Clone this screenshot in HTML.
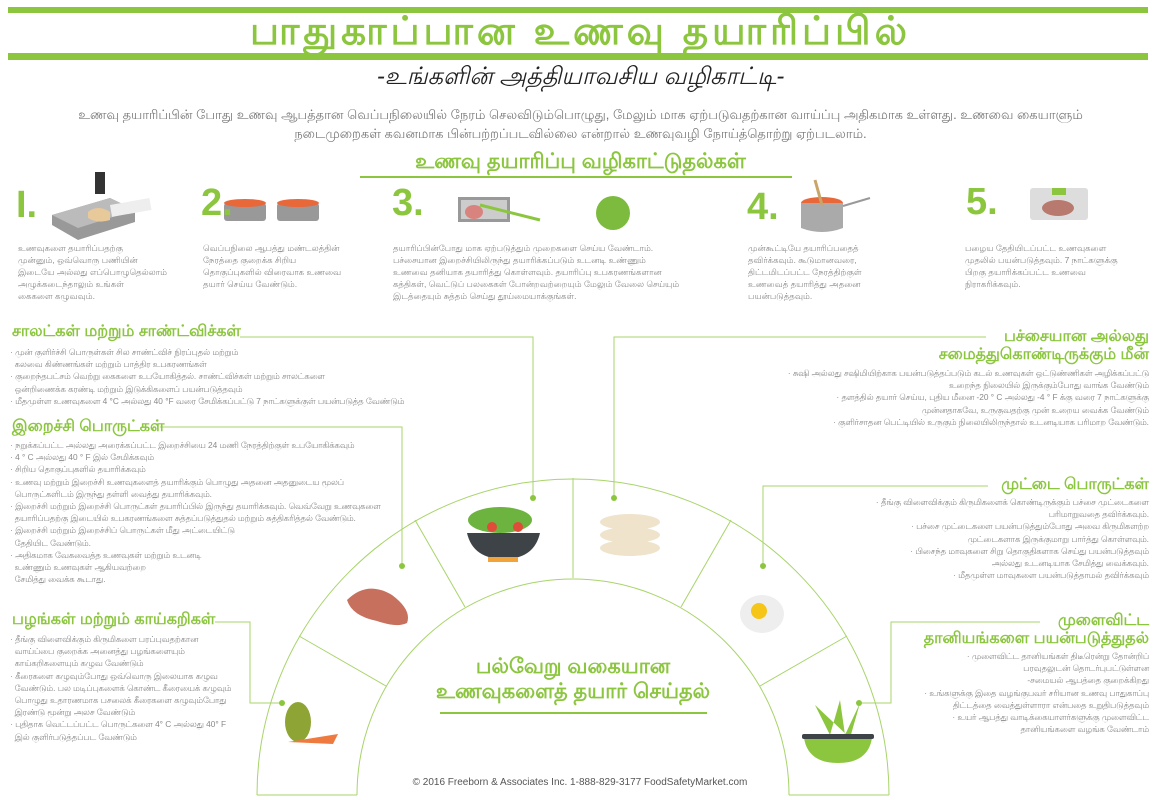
<!DOCTYPE html>
<html><head><meta charset="utf-8">
<style>
*{margin:0;padding:0;box-sizing:border-box}
body{width:1161px;height:800px;background:#fff;position:relative;overflow:hidden;font-family:"Liberation Sans","Noto Sans CJK SC",sans-serif;color:#777}
.a{position:absolute;white-space:nowrap}
.g{color:#8cc63f}
.num{position:absolute;color:#8cc63f;font-weight:bold;font-size:38px;line-height:38px}
.st{position:absolute;font-size:8.5px;line-height:12px;color:#8a8a8a;white-space:nowrap}
.h{position:absolute;color:#8cc63f;font-size:16px;line-height:18px;white-space:nowrap;font-weight:bold}
.b{position:absolute;font-size:8.3px;line-height:12.2px;color:#8a8a8a;white-space:nowrap}
.r{text-align:right}
</style></head><body>
<div class="a" style="left:8px;top:7px;width:1140px;height:6px;background:#8cc63f"></div>
<div class="a" style="left:8px;top:53px;width:1140px;height:7px;background:#8cc63f"></div>
<div class="a g" style="left:0;width:1161px;top:11px;text-align:center;font-size:39px;line-height:42px;font-weight:bold;letter-spacing:4px">பாதுகாப்பான உணவு தயாரிப்பில்</div>
<div class="a" style="left:0;width:1161px;top:64px;text-align:center;font-size:24px;line-height:26px;color:#222;font-style:italic">-உங்களின் அத்தியாவசிய வழிகாட்டி-</div>
<div class="a" style="left:0;width:1161px;top:105px;text-align:center;font-size:13px;line-height:19px;color:#777;white-space:normal;padding:0 10px">உணவு தயாரிப்பின் போது உணவு ஆபத்தான வெப்பநிலையில் நேரம் செலவிடும்பொழுது, மேலும் மாக ஏற்படுவதற்கான வாய்ப்பு அதிகமாக உள்ளது. உணவை கையாளும்<br>நடைமுறைகள் கவனமாக பின்பற்றப்படவில்லை என்றால் உணவுவழி நோய்த்தொற்று ஏற்படலாம்.</div>
<div class="a g" style="left:0;width:1161px;top:150px;text-align:center;font-size:21px;line-height:24px;font-weight:bold">உணவு தயாரிப்பு வழிகாட்டுதல்கள்</div>
<div class="a" style="left:360px;top:176px;width:432px;height:2px;background:#8cc63f"></div>

<svg class="a" style="left:0;top:0" width="1161" height="800">
<rect x="95" y="172" width="10" height="22" fill="#333"/>
<path d="M52 215 L110 198 L135 210 L135 222 L78 240 L52 225Z" fill="#999"/>
<path d="M52 215 L110 198 L135 210 L78 228Z" fill="#bbb"/>
<rect x="110" y="205" width="40" height="12" fill="#eee" transform="rotate(-10 110 205)"/>
<path d="M88 212 q10 -8 22 0 l0 8 q-12 4 -22 -2z" fill="#e8c99a"/>
<rect x="224" y="203" width="42" height="18" rx="3" fill="#999"/><ellipse cx="245" cy="203" rx="21" ry="4" fill="#e8683a"/>
<rect x="277" y="203" width="42" height="18" rx="3" fill="#999"/><ellipse cx="298" cy="203" rx="21" ry="4" fill="#e8683a"/>
<rect x="458" y="197" width="52" height="25" fill="#999"/><rect x="461" y="200" width="46" height="19" fill="#ccc"/>
<ellipse cx="474" cy="212" rx="9" ry="7" fill="#d9837f"/>
<line x1="480" y1="205" x2="540" y2="220" stroke="#8cc63f" stroke-width="3"/>
<circle cx="613" cy="213" r="17" fill="#7dbb3f"/>
<ellipse cx="822" cy="203" rx="21" ry="6" fill="#e8683a"/>
<path d="M801 203 v25 q21 8 42 0 v-25" fill="#aaa"/>
<line x1="843" y1="206" x2="870" y2="198" stroke="#999" stroke-width="2"/>
<line x1="815" y1="180" x2="822" y2="205" stroke="#c9a56a" stroke-width="3"/>
<rect x="1030" y="188" width="58" height="32" rx="3" fill="#ddd"/>
<rect x="1052" y="188" width="14" height="7" fill="#8cc63f"/>
<ellipse cx="1058" cy="208" rx="16" ry="8" fill="#b87a6e"/>
<g fill="none" stroke="#a8d46a" stroke-width="1">
<path d="M257 795 A316 316 0 0 1 889 795"/>
<path d="M357 795 A216 216 0 0 1 789 795"/>
<line x1="257" y1="795" x2="357" y2="795"/><line x1="789" y1="795" x2="889" y2="795"/>
<line x1="573" y1="478" x2="573" y2="578"/>
<line x1="415" y1="520" x2="465" y2="607"/><line x1="731" y1="520" x2="681" y2="607"/>
<line x1="299" y1="636" x2="386" y2="686"/><line x1="847" y1="636" x2="760" y2="686"/>
<polyline points="240,337 533,337 533,498"/>
<polyline points="986,337 614,337 614,498"/>
<polyline points="160,427 402,427 402,566"/>
<polyline points="988,486 763,486 763,566"/>
<polyline points="215,622 250,622 250,703 282,703"/>
<polyline points="1040,622 891,622 891,703 859,703"/>
</g>
<g fill="#8cc63f"><circle cx="533" cy="498" r="3"/><circle cx="614" cy="498" r="3"/><circle cx="402" cy="566" r="3"/><circle cx="763" cy="566" r="3"/><circle cx="282" cy="703" r="3"/><circle cx="859" cy="703" r="3"/></g>
<ellipse cx="500" cy="520" rx="32" ry="13" fill="#6db33f"/>
<circle cx="492" cy="527" r="5" fill="#e04b3a"/><circle cx="518" cy="527" r="5" fill="#e04b3a"/>
<path d="M467 533 h73 q-6 26 -36 26 q-31 0 -37 -26z" fill="#3e4348"/>
<rect x="488" y="557" width="30" height="5" fill="#f2a33a"/>
<g fill="#efe3cc"><ellipse cx="630" cy="522" rx="30" ry="8"/><ellipse cx="630" cy="535" rx="30" ry="8"/><ellipse cx="630" cy="548" rx="30" ry="8"/></g>
<path d="M347 600 q20 -20 45 -5 q20 15 15 28 q-10 5 -30 -2 q-25 -5 -30 -21z" fill="#c8705e"/>
<ellipse cx="762" cy="614" rx="22" ry="19" fill="#eee"/><circle cx="759" cy="611" r="8" fill="#f5c518"/>
<ellipse cx="298" cy="722" rx="13" ry="20" fill="#8ea535"/>
<path d="M288 742 l50 -8 l-5 10z" fill="#ef7a40"/>
<path d="M815 705 l15 30 l10 -35 l5 35 l15 -32 l-10 35z" fill="#8cc63f"/>
<path d="M804 738 h68 q-4 25 -34 25 q-30 0 -34 -25z" fill="#8cc63f"/><rect x="802" y="734" width="72" height="5" rx="2" fill="#3e4348"/>
</svg>

<div class="num" style="left:16px;top:186px">I.</div>
<div class="num" style="left:201px;top:184px">2.</div>
<div class="num" style="left:392px;top:184px">3.</div>
<div class="num" style="left:747px;top:188px">4.</div>
<div class="num" style="left:966px;top:183px">5.</div>

<div class="st" style="left:18px;top:242px">உணவுகளை தயாரிப்பதற்கு<br>முன்னும், ஒவ்வொரு பணியின்<br>இடையே அல்லது எப்பொழுதெல்லாம்<br>அழுக்கடைந்தாலும் உங்கள்<br>கைகளை கழுவவும்.</div>
<div class="st" style="left:203px;top:242px">வெப்பநிலை ஆபத்து மண்டலத்தின்<br>நேரத்தை குறைக்க சிறிய<br>தொகுப்புகளில் விரைவாக உணவை<br>தயார் செய்ய வேண்டும்.</div>
<div class="st" style="left:393px;top:242px">தயாரிப்பின்போது மாக ஏற்படுத்தும் முறைகளை செய்ய வேண்டாம்.<br>பச்சையான இறைச்சியிலிருந்து தயாரிக்கப்படும் உடனடி உண்ணும்<br>உணவை தனியாக தயாரித்து கொள்ளவும். தயாரிப்பு உபகரணங்களான<br>கத்திகள், வெட்டுப் பலகைகள் போன்றவற்றையும் மேலும் வேலை செய்யும்<br>இடத்தையும் சுத்தம் செய்து தூய்மையாக்குங்கள்.</div>
<div class="st" style="left:748px;top:242px">முன்கூட்டியே தயாரிப்பதைத்<br>தவிர்க்கவும். கூடுமானவரை,<br>திட்டமிடப்பட்ட நேரத்திற்குள்<br>உணவைத் தயாரித்து அதனை<br>பயன்படுத்தவும்.</div>
<div class="st" style="left:965px;top:242px">பழைய தேதியிடப்பட்ட உணவுகளை<br>முதலில் பயன்படுத்தவும். 7 நாட்களுக்கு<br>பிறகு தயாரிக்கப்பட்ட உணவை<br>நிராகரிக்கவும்.</div>

<div class="h" style="left:12px;top:323px">சாலட்கள் மற்றும் சாண்ட்விச்கள்</div>
<div class="b" style="left:10px;top:346px">· முன் குளிர்ச்சி பொருள்கள் சில சாண்ட்விச் நிரப்புதல் மற்றும்<br>&nbsp; கலவை கிண்ணங்கள் மற்றும் பாத்திர உபகரணங்கள்<br>· குறைந்தபட்சம் வெற்று கைகளை உபயோகித்தல். சாண்ட்விச்கள் மற்றும் சாலட்களை<br>&nbsp; ஒன்றிணைக்க கரண்டி மற்றும் இடுக்கிகளைப் பயன்படுத்தவும்<br>· மீதமுள்ள உணவுகளை 4 °C அல்லது 40 °F வரை சேமிக்கப்பட்டு 7 நாட்களுக்குள் பயன்படுத்த வேண்டும்</div>
<div class="h" style="left:12px;top:418px">இறைச்சி பொருட்கள்</div>
<div class="b" style="left:10px;top:439px">· நறுக்கப்பட்ட அல்லது அரைக்கப்பட்ட இறைச்சியை 24 மணி நேரத்திற்குள் உபயோகிக்கவும்<br>· 4 ° C அல்லது 40 ° F இல் சேமிக்கவும்<br>· சிறிய தொகுப்புகளில் தயாரிக்கவும்<br>· உணவு மற்றும் இறைச்சி உணவுகளைத் தயாரிக்கும் பொழுது அதனை அதனுடைய மூலப்<br>&nbsp; பொருட்களிடம் இருந்து தள்ளி வைத்து தயாரிக்கவும்.<br>· இறைச்சி மற்றும் இறைச்சி பொருட்கள் தயாரிப்பில் இருந்து தயாரிக்கவும். வெவ்வேறு உணவுகளை<br>&nbsp; தயாரிப்பதற்கு இடையில் உபகரணங்களை சுத்தப்படுத்துதல் மற்றும் சுத்திகரித்தல் வேண்டும்.<br>· இறைச்சி மற்றும் இறைச்சிப் பொருட்கள் மீது அட்டையிட்டு<br>&nbsp; தேதியிட வேண்டும்.<br>· அதிகமாக வேகவைத்த உணவுகள் மற்றும் உடனடி<br>&nbsp; உண்ணும் உணவுகள் ஆகியவற்றை<br>&nbsp; சேமித்து வைக்க கூடாது.</div>
<div class="h" style="left:12px;top:611px">பழங்கள் மற்றும் காய்கறிகள்</div>
<div class="b" style="left:10px;top:633px">· தீங்கு விளைவிக்கும் கிருமிகளை பரப்புவதற்கான<br>&nbsp; வாய்ப்பை குறைக்க அனைத்து பழங்களையும்<br>&nbsp; காய்கறிகளையும் கழுவ வேண்டும்<br>· கீரைகளை கழுவும்போது ஒவ்வொரு இலையாக கழுவ<br>&nbsp; வேண்டும். பல மடிப்புகளைக் கொண்ட கீரையைக் கழுவும்<br>&nbsp; பொழுது உதாரணமாக பசலைக் கீரைகளை கழுவும்போது<br>&nbsp; இரண்டு மூன்று அலச வேண்டும்<br>· புதிதாக வெட்டப்பட்ட பொருட்களை 4° C அல்லது 40° F<br>&nbsp; இல் குளிர்படுத்தப்பட வேண்டும்</div>

<div class="h r" style="right:12px;top:328px;line-height:18px">பச்சையான அல்லது<br>சமைத்துகொண்டிருக்கும் மீன்</div>
<div class="b r" style="right:12px;top:367px">· சுஷி அல்லது சஷிமியிற்காக பயன்படுத்தப்படும் கடல் உணவுகள் ஒட்டுண்ணிகள் அழிக்கப்பட்டு<br>உறைந்த நிலையில் இருக்கும்போது வாங்க வேண்டும்<br>· தளத்தில் தயார் செய்ய, புதிய மீனை -20 ° C அல்லது -4 ° F க்கு வரை 7 நாட்களுக்கு<br>முன்னதாகவே, உருகுவதற்கு முன் உறைய வைக்க வேண்டும்<br>· குளிர்சாதன பெட்டியில் உருகும் நிலையிலிருந்தால் உடனடியாக பரிமாற வேண்டும்.</div>
<div class="h r" style="right:12px;top:476px">முட்டை பொருட்கள்</div>
<div class="b r" style="right:12px;top:496px">· தீங்கு விளைவிக்கும் கிருமிகளைக் கொண்டிருக்கும் பச்சை முட்டைகளை<br>பரிமாறுவதை தவிர்க்கவும்.<br>· பச்சை முட்டைகளை பயன்படுத்தும்போது அவை கிருமிகளற்ற<br>முட்டைகளாக இருக்குமாறு பார்த்து கொள்ளவும்.<br>· பிசைந்த மாவுகளை சிறு தொகுதிகளாக செய்து பயன்படுத்தவும்<br>அல்லது உடனடியாக சேமித்து வைக்கவும்.<br>· மீதமுள்ள மாவுகளை பயன்படுத்தாமல் தவிர்க்கவும்</div>
<div class="h r" style="right:12px;top:612px">முளைவிட்ட<br>தானியங்களை பயன்படுத்துதல்</div>
<div class="b r" style="right:12px;top:650px">· முளைவிட்ட தானியங்கள் திடீரென்று தோன்றிப்<br>பரவுதலுடன் தொடர்புபட்டுள்ளன<br>-சமையல் ஆபத்தை குறைக்கிறது<br>· உங்களுக்கு இதை வழங்குபவர் சரியான உணவு பாதுகாப்பு<br>திட்டத்தை வைத்துள்ளாரா என்பதை உறுதிபடுத்தவும்<br>· உயர் ஆபத்து வாடிக்கையாளர்களுக்கு முளைவிட்ட<br>தானியங்களை வழங்க வேண்டாம்</div>

<div class="a g" style="left:373px;width:400px;top:654px;text-align:center;font-size:21px;line-height:25px;font-weight:bold">பல்வேறு வகையான<br>உணவுகளைத் தயார் செய்தல்</div>
<div class="a" style="left:440px;top:712px;width:267px;height:2px;background:#8cc63f"></div>
<div class="a" style="left:380px;width:400px;top:777px;text-align:center;font-size:10px;color:#555">© 2016 Freeborn &amp; Associates Inc. 1-888-829-3177 FoodSafetyMarket.com</div>
</body></html>
